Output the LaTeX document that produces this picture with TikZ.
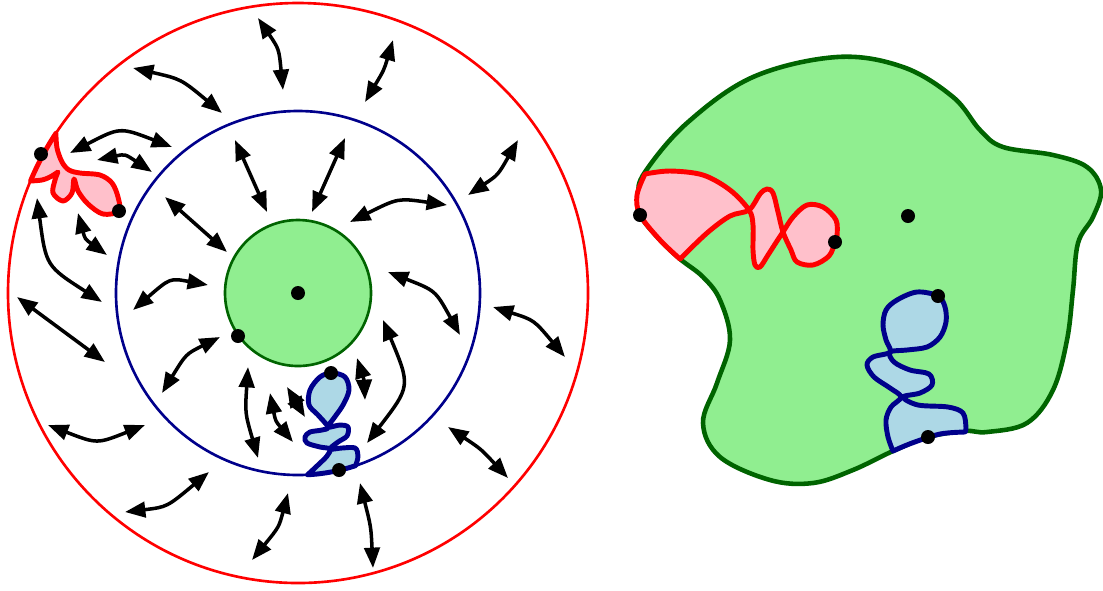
\documentclass[tikz,border=0pt]{standalone}
\usetikzlibrary{arrows.meta}
\definecolor{lgreen}{HTML}{90EE90}
\definecolor{dgreen}{HTML}{006400}
\definecolor{pinkc}{HTML}{FFC0CB}
\definecolor{lblue}{HTML}{ADD8E6}
\definecolor{dblue}{HTML}{00008B}
\begin{document}
\begin{tikzpicture}[x=0.01cm,y=-0.01cm,
  arr/.style={line width=1pt,{Triangle[length=5.8pt,width=4.4pt]}-{Triangle[length=5.8pt,width=4.4pt]}},
  ring/.style={line width=0.75pt},
  regred/.style={draw=red,fill=pinkc,line width=1.4pt,line join=round},
  regblue/.style={draw=dblue,fill=lblue,line width=1.4pt,line join=round},
  blob/.style={draw=dgreen,fill=lgreen,line width=1.3pt},
  dotc/.style={fill=black}]
\useasboundingbox (0,0) rectangle (1103,590);
% left: rings
\draw[ring,red] (298,293) circle[radius=290];
\draw[ring,dblue] (298,293) circle[radius=182];
\filldraw[ring,draw=dgreen,fill=lgreen] (298,293) circle[radius=73];
% left red region
\filldraw[regred] plot[smooth,tension=0.55] coordinates {(55.9,133.4) (57,148) (62,162) (69,170) (80,173) (100,175) (112,183) (118,197) (119,211) (103,214) (88,204) (78,191) (74,179) (72,193) (63,201) (53,193) (55,180) (58,172)}
  -- plot[smooth,tension=0.55] coordinates {(58,172) (50,177) (42,180) (30.5,181)}
  arc[start angle=202.7,end angle=213.4,radius=290] -- cycle;
% left blue region
\filldraw[regblue] plot[smooth,tension=0.55] coordinates {(307.5,474.8) (318,465) (327,456) (330,449) (320,447) (307,443) (305,437) (310,432) (322,430) (328,427) (318,415) (309,405) (310,390) (320,377) (332,373) (345,377) (349,390) (343,405) (334,418) (328,427) (340,425) (348,427) (347,436) (338,442) (330,449) (342,448) (355,448) (358,456) (355.7,465.6)}
  arc[start angle=71.5,end angle=87,radius=182] -- cycle;
% arrows
\draw[arr] (133,68) .. controls (181,79) .. (222,113);
\draw[arr] (258,18) .. controls (279,49) .. (283,90);
\draw[arr] (393,40) .. controls (384,70) .. (365,102);
\draw[arr] (70,153) .. controls (120,127) .. (172,147);
\draw[arr] (97,160) .. controls (125,154) .. (152,172);
\draw[arr] (235,140) -- (267,212);
\draw[arr] (345,138) -- (312,212);
\draw[arr] (518,140) .. controls (498,175) .. (468,195);
\draw[arr] (165,197) -- (227,252);
\draw[arr] (350,222) .. controls (398,198) .. (447,205);
\draw[arr] (37,198) .. controls (46,266) .. (102,302);
\draw[arr] (78,213) .. controls (85,239) .. (107,255);
\draw[arr] (133,310) .. controls (170,278) .. (208,285);
\draw[arr] (388,272) .. controls (435.5,290.5) .. (460,335);
\draw[arr] (493,307) .. controls (534,320) .. (565,357);
\draw[arr] (17,297) -- (105,362);
\draw[arr] (220,337) .. controls (186,354) .. (162,393);
\draw[arr] (248,367) .. controls (245,413) .. (258,458);
\draw[arr] (270,393) .. controls (275.5,421) .. (293,442);
\draw[arr] (287,387) -- (305,417);
\draw[arr] (357,358) .. controls (364,380) .. (365,400);
\draw[arr] (383,320) .. controls (410.7,386.2) .. (367,443);
\draw[arr] (48,425) .. controls (97,444) .. (145,425);
\draw[arr] (448,427) .. controls (481,449) .. (508,478);
\draw[arr] (125,512) .. controls (167,507) .. (209,472);
\draw[arr] (252,560) .. controls (279,527) .. (288,493);
\draw[arr] (360,483) .. controls (371,527) .. (373,568);
% left dots
\fill[dotc] (298,293) circle[radius=7];
\fill[dotc] (238,336) circle[radius=7];
\fill[dotc] (331,373) circle[radius=7];
\fill[dotc] (339,470) circle[radius=7];
\fill[dotc] (41,154) circle[radius=7];
\fill[dotc] (119,211) circle[radius=7];
% right blob
\filldraw[blob] plot[smooth cycle,tension=0.6] coordinates {(645,172) (687,123) (753,77) (837,57) (903,67) (953,97) (980,130) (1003,147) (1053,155) (1087,167) (1101,190) (1093,217) (1078,243) (1073,290) (1067,340) (1053,390) (1027,423) (987,432) (965,431) (928,437) (893,451) (853,470) (813,483) (770,480) (720,457) (703,423) (717,383) (730,340) (720,300) (703,277) (680,259) (660,240) (640,215) (638,195)};
% right red region
\filldraw[regred] plot[smooth,tension=0.55] coordinates {(645,174) (670,171) (703,175) (730,190) (749,210) (753,225) (753,250) (755,265) (760,267) (768,255) (777,241) (783,232) (793,217) (807,205) (823,207) (836,220) (837,236) (835,242) (829,256) (813,265) (797,262) (791,250) (783,232) (778,212) (773,193) (767,189) (760,194) (749,210) (730,216) (707,233) (680,259)}
  -- plot[smooth,tension=0.55] coordinates {(680,259) (660,240) (640,215) (637,195) (645,174)} -- cycle;
% right blue region
\filldraw[regblue] plot[smooth,tension=0.55] coordinates {(893,451) (888,437) (886,420) (891,407) (901,397) (890,388) (874,377) (867,365) (873,357) (890,352) (886,340) (883,325) (886,310) (897,300) (917,292) (938,296) (945,307) (946,322) (940,337) (927,347) (907,350) (890,352) (894,362) (910,370) (929,374) (932,385) (920,393) (903,397) (918,405) (948,407) (963,413) (966,428) (965,432)}
  -- plot[smooth,tension=0.55] coordinates {(965,432) (940,434) (912,443) (893,451)} -- cycle;
% right dots
\fill[dotc] (640,215) circle[radius=7];
\fill[dotc] (835,242) circle[radius=7];
\fill[dotc] (908,216) circle[radius=7];
\fill[dotc] (938,296) circle[radius=7];
\fill[dotc] (928,437) circle[radius=7];
\end{tikzpicture}
\end{document}
